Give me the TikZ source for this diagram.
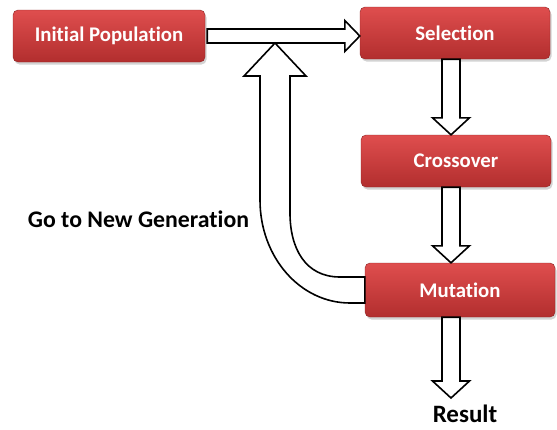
\documentclass[tikz,border=0pt]{standalone}
\usepackage{fontspec}
\setmainfont{Carlito}[Ligatures={NoCommon}]
\usetikzlibrary{calc,shadows}

\definecolor{boxtop}{RGB}{223,78,78}
\definecolor{boxbot}{RGB}{178,46,46}

\tikzset{
  stage/.style={rounded corners=5pt, top color=boxtop, bottom color=boxbot,
    draw=boxbot!80!black, line width=0.4pt, text=white,
    font=\fontsize{20.8}{24}\selectfont\bfseries,
    minimum width=190pt, minimum height=52pt,
    drop shadow={shadow xshift=1.5pt, shadow yshift=-2.5pt, opacity=0.35}},
  blockarrow/.style={draw=black, fill=white, line width=1.6pt, line join=miter},
  note/.style={text=black, font=\fontsize{23.8}{28}\selectfont\bfseries}
}

\begin{document}
\begin{tikzpicture}[x=1pt,y=-1pt]

        \useasboundingbox (0,0) rectangle (557,429);

        \node[stage,minimum width=192pt] (Init) at (109,36) {Initial Population};
        \node[stage] (Select) at (455,33) {Selection};
        \node[stage] (Cross) at (456,161) {Crossover};
        \node[stage,minimum height=54pt] (Mutate) at (460,290) {Mutation};

        \node[note] (Gen) at (138.5,219) {Go to New Generation};
        \node[note,font=\fontsize{25}{29}\selectfont\bfseries] (Result) at (465,414) {Result};

        \coordinate (col) at (451,0);
        \coordinate (fb) at (275,43);
        \coordinate (restip) at (451,398);

        %% forward arrows
        \draw[blockarrow] ($(Init.east)+(2,-7)$) -- ($(Init.east -| Select.west)+(-15,-7)$)
            -- ($(Init.east -| Select.west)+(-15,-15.5)$) -- (Init.east -| Select.west)
            -- ($(Init.east -| Select.west)+(-15,15.5)$) -- ($(Init.east -| Select.west)+(-15,7)$)
            -- ($(Init.east)+(2,7)$) -- cycle;

        \draw[blockarrow] ($(Select.south -| col)+(-9,0)$) -- ($(Cross.north -| col)+(-9,-17)$)
            -- ($(Cross.north -| col)+(-18.5,-17)$) -- (Cross.north -| col)
            -- ($(Cross.north -| col)+(18.5,-17)$) -- ($(Cross.north -| col)+(9,-17)$)
            -- ($(Select.south -| col)+(9,0)$) -- cycle;

        \draw[blockarrow] ($(Cross.south -| col)+(-9,0)$) -- ($(Mutate.north -| col)+(-9,-17)$)
            -- ($(Mutate.north -| col)+(-18.5,-17)$) -- (Mutate.north -| col)
            -- ($(Mutate.north -| col)+(18.5,-17)$) -- ($(Mutate.north -| col)+(9,-17)$)
            -- ($(Cross.south -| col)+(9,0)$) -- cycle;

        \draw[blockarrow] ($(Mutate.south -| col)+(-9,0)$) -- ($(restip)+(-9,-17)$)
            -- ($(restip)+(-18.5,-17)$) -- (restip)
            -- ($(restip)+(18.5,-17)$) -- ($(restip)+(9,-17)$)
            -- ($(Mutate.south -| col)+(9,0)$) -- cycle;

        %% loop back
        \draw[blockarrow] (fb) -- ($(fb)+(31,33)$) -- ($(fb)+(15,33)$) -- (290,213)
            .. controls (290,248) and (305,277) .. (340,277)
            -- ($(Mutate.west)+(0,-13)$) -- ($(Mutate.west)+(0,13)$) -- (350,303)
            .. controls (300,303) and (260,257) .. (260,200)
            -- ($(fb)+(-15,33)$) -- ($(fb)+(-31,33)$) -- cycle;

\end{tikzpicture}
\end{document}
